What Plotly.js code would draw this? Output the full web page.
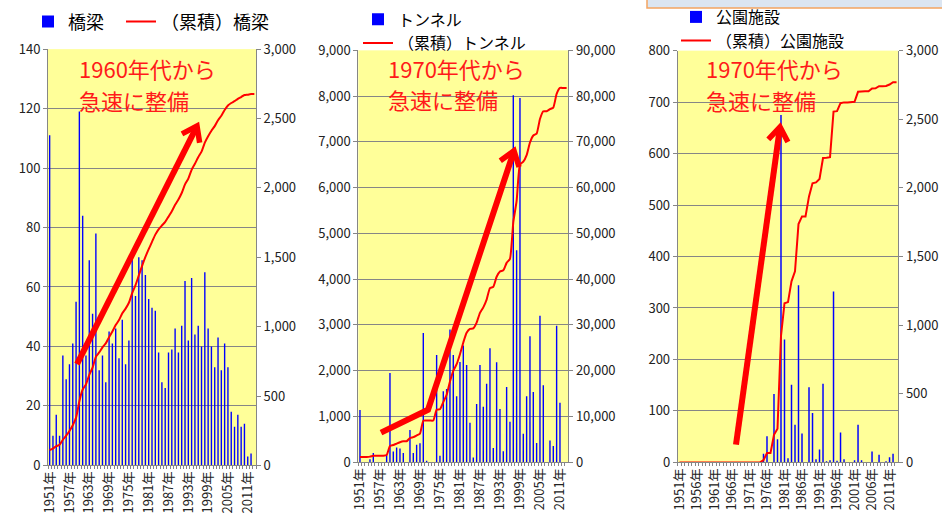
<!DOCTYPE html>
<html><head><meta charset="utf-8">
<script src="https://cdn.plot.ly/plotly-3.0.1.min.js"></script>
<style>html,body{margin:0;padding:0;background:#fff}#chart{width:942px;height:514px}</style>
</head><body><div id="chart"></div>
<script>
const years = [1951,1952,1953,1954,1955,1956,1957,1958,1959,1960,1961,1962,1963,1964,1965,1966,1967,1968,1969,1970,
1971,1972,1973,1974,1975,1976,1977,1978,1979,1980,1981,1982,1983,1984,1985,1986,1987,1988,1989,1990,
1991,1992,1993,1994,1995,1996,1997,1998,1999,2000,2001,2002,2003,2004,2005,2006,2007,2008,2009,2010,
2011,2012,2013];

const bridge = [111,10,17,10,37,29,34,41,55,119,84,37,69,51,78,32,37,28,45,41,
46,36,49,34,42,70,57,70,69,64,56,53,52,38,28,26,38,39,46,38,
47,62,42,63,44,47,40,65,46,40,33,43,32,41,33,18,13,17,13,14,
3,4,0];
const bridgeCum = [111,121,138,148,185,214,248,289,344,463,547,584,653,704,782,814,851,879,924,965,
1011,1047,1096,1130,1172,1242,1299,1369,1438,1502,1558,1611,1663,1701,1729,1755,1793,1832,1878,1916,
1963,2025,2067,2130,2174,2221,2261,2326,2372,2412,2445,2488,2520,2561,2594,2612,2625,2642,2655,2669,
2672,2676,2676];

const tunnel = [1140,0,0,60,200,0,0,0,150,1950,230,320,300,200,0,700,200,380,410,2820,
30,0,0,2340,140,1550,1600,2900,2340,1440,2190,2550,2120,860,100,1270,2120,1210,1710,2490,
310,2180,1160,240,1640,880,8020,4630,7960,620,1440,2750,1530,420,3200,1680,0,470,350,2980,
1300,0,0];
const tunnelCum = [1140,1140,1140,1200,1400,1400,1400,1400,1550,3500,3730,4050,4350,4550,4550,5250,5450,5830,6240,9060,
9090,9090,9090,11430,11570,13120,14720,17620,19960,21400,23590,26140,28260,29120,29220,30490,32610,33820,35530,38020,
38330,40510,41670,41910,43550,44430,52450,57080,65040,65660,67100,69850,71380,71800,75000,76680,76680,77150,77500,80480,
81780,81780,81780];

const park = [0,0,0,0,0,0,0,0,0,0,0,0,0,0,0,0,0,0,0,0,
0,0,0,0,17,51,0,133,45,675,239,8,151,73,344,56,0,146,96,6,
25,153,2,4,332,3,58,6,0,0,4,73,4,0,0,21,1,15,0,2,
10,17,0];
const parkCum = [0,0,0,0,0,0,0,0,0,0,0,0,0,0,0,0,0,0,0,0,
0,0,0,0,17,68,68,201,246,921,1160,1168,1319,1392,1736,1792,1792,1938,2034,2040,
2065,2218,2220,2224,2556,2559,2617,2623,2623,2623,2627,2700,2704,2704,2704,2725,2726,2741,2741,2743,
2753,2770,2770];

const tickYears6 = [1951,1957,1963,1969,1975,1981,1987,1993,1999,2005,2011];
const tickYears5 = [1951,1956,1961,1966,1971,1976,1981,1986,1991,1996,2001,2006,2011];

const barNames = ['橋梁','トンネル','公園施設'];
const cumNames = ['（累積）橋梁','（累積）トンネル','（累積）公園施設'];
const noteLine1 = ['1960年代から','1970年代から','1970年代から'];
const noteLine2 = ['急速に整備','急速に整備','急速に整備'];

const W = 942, H = 514;
const FONT = '"Noto Sans CJK JP", "Noto Sans", sans-serif';
const GRAY = '#868686';
const cats = years.map(y => y + '年');
const px = x => x / W, py = y => 1 - y / H;

function xAx(x0, x1, tickYears, anchor) {
  return {
    domain: [px(x0), px(x1)], anchor: anchor, type: 'category',
    tickvals: cats, ticktext: years.map(y => tickYears.includes(y) ? y + '年' : ''),
    tickangle: -90, tickson: 'boundaries', ticks: 'outside', ticklen: 3, tickcolor: GRAY,
    showline: true, linecolor: GRAY, linewidth: 1, showgrid: false, zeroline: false,
    tickfont: {family: FONT, size: 13, color: '#222'}, automargin: false, fixedrange: true,
    range: [-0.5, 62.5]
  };
}
function yLeft(y0, y1, anchor, max, dt) {
  return {
    domain: [py(y0), py(y1)], anchor: anchor, range: [0, max], dtick: dt, tick0: 0,
    showgrid: true, gridcolor: GRAY, gridwidth: 1, showline: true, linecolor: GRAY,
    ticks: 'outside', ticklen: 4, tickcolor: GRAY, zeroline: false, tickformat: ',d',
    tickfont: {family: FONT, size: 13, color: '#222'}, automargin: false, fixedrange: true
  };
}
function yRight(over, anchor, max, dt) {
  return {
    overlaying: over, side: 'right', anchor: anchor, range: [0, max], dtick: dt, tick0: 0,
    showgrid: false, showline: true, linecolor: GRAY, ticks: 'outside', ticklen: 4,
    tickcolor: GRAY, zeroline: false, tickformat: ',d',
    tickfont: {family: FONT, size: 13, color: '#222'}, automargin: false, fixedrange: true
  };
}

const barVals = [bridge, tunnel, park];
const cumVals = [bridgeCum, tunnelCum, parkCum];
const xs = ['x','x2','x3'];
const yl = ['y','y3','y5'];
const yr = ['y2','y4','y6'];
const barLegends = ['legend','legend3','legend5'];
const cumLegends = ['legend2','legend4','legend6'];
const lineShape = [['spline',0.6],['spline',0.5],['linear',0]];

const traces = [];
for (let i = 0; i < 3; i++) {
  traces.push({type:'bar', x:cats, y:barVals[i], xaxis:xs[i], yaxis:yl[i], name:barNames[i],
    legend:barLegends[i], marker:{color:'#0000ff', line:{width:0}}, width:0.42, hoverinfo:'skip'});
  const ln = {color:'#ff0000', width:2, shape:lineShape[i][0]};
  if (lineShape[i][0] === 'spline') ln.smoothing = lineShape[i][1];
  traces.push({type:'scatter', mode:'lines', x:cats, y:cumVals[i], xaxis:xs[i], yaxis:yr[i], name:cumNames[i],
    legend:cumLegends[i], line:ln, hoverinfo:'skip'});
}

function legendAt(x, y, size) {
  return {x: px(x), y: py(y), xanchor:'left', yanchor:'middle', orientation:'h',
    bgcolor:'rgba(0,0,0,0)', borderwidth:0, font:{family:FONT, size:size, color:'#000'},
    itemclick:false, itemdoubleclick:false, tracegroupgap:0};
}

function arrowShapes(pts) {
  const d = pts.map((p,i) => (i ? 'L' : 'M') + px(p[0]) + ',' + py(p[1])).join(' ');
  const tip = pts[pts.length-1], prev = pts[pts.length-2];
  const ang = Math.atan2(tip[1]-prev[1], tip[0]-prev[0]);
  const L = 17, a = 0.62;
  const l1 = [tip[0] - L*Math.cos(ang - a), tip[1] - L*Math.sin(ang - a)];
  const l2 = [tip[0] - L*Math.cos(ang + a), tip[1] - L*Math.sin(ang + a)];
  const head = 'M' + px(l1[0]) + ',' + py(l1[1]) + ' L' + px(tip[0]) + ',' + py(tip[1]) + ' L' + px(l2[0]) + ',' + py(l2[1]);
  return [
    {type:'path', xref:'paper', yref:'paper', path:d, line:{color:'#ff0000', width:6}, layer:'above'},
    {type:'path', xref:'paper', yref:'paper', path:head, line:{color:'#ff0000', width:5.5}, layer:'above'}
  ];
}

const shapes = [].concat(
  arrowShapes([[77,363],[197,123]]),
  arrowShapes([[381,432],[428,409],[514,148]]),
  arrowShapes([[736,444],[780,124]]),
  [{type:'rect', xref:'paper', yref:'paper', x0:px(647), x1:px(950), y0:py(4), y1:py(-6),
    fillcolor:'#dbe5f1', line:{color:'#f4a460', width:1.5}, layer:'above'}]
);

const noteX = [78, 387, 705];
const noteY1 = [65, 64, 65];
const noteY2 = [97, 96, 97];
const annotations = [];
for (let i = 0; i < 3; i++) {
  annotations.push({xref:'paper', yref:'paper', x:px(noteX[i]), y:py(noteY1[i]), xanchor:'left', yanchor:'middle',
    text:noteLine1[i], showarrow:false, borderpad:0, font:{family:FONT, size:22, color:'#ff1a1a'}});
  annotations.push({xref:'paper', yref:'paper', x:px(noteX[i]), y:py(noteY2[i]), xanchor:'left', yanchor:'middle',
    text:noteLine2[i], showarrow:false, borderpad:0, font:{family:FONT, size:22, color:'#ff1a1a'}});
}

const layout = {
  width: W, height: H, margin:{l:0, r:0, t:0, b:0, pad:0},
  paper_bgcolor:'#ffffff', plot_bgcolor:'#ffff99',
  font:{family:FONT, color:'#222'}, showlegend:true, bargap:0.58,
  xaxis: xAx(48, 256, tickYears6, 'y'),
  yaxis: yLeft(465, 45.5, 'x', 140, 20),
  yaxis2: yRight('y', 'x', 3000, 500),
  xaxis2: xAx(358.3, 568.3, tickYears6, 'y3'),
  yaxis3: yLeft(461.7, 46.7, 'x2', 9000, 1000),
  yaxis4: yRight('y3', 'x2', 90000, 10000),
  xaxis3: xAx(677.7, 898.3, tickYears5, 'y5'),
  yaxis5: yLeft(462, 47, 'x3', 800, 100),
  yaxis6: yRight('y5', 'x3', 3000, 500),
  legend: legendAt(28, 18, 18),
  legend2: legendAt(121, 18, 18),
  legend3: legendAt(358, 15.5, 16),
  legend4: legendAt(358, 39.5, 16),
  legend5: legendAt(676, 13, 16),
  legend6: legendAt(676, 37, 16),
  shapes: shapes,
  annotations: annotations
};

Plotly.newPlot('chart', traces, layout, {displayModeBar:false, staticPlot:true});
</script>
</body></html>
